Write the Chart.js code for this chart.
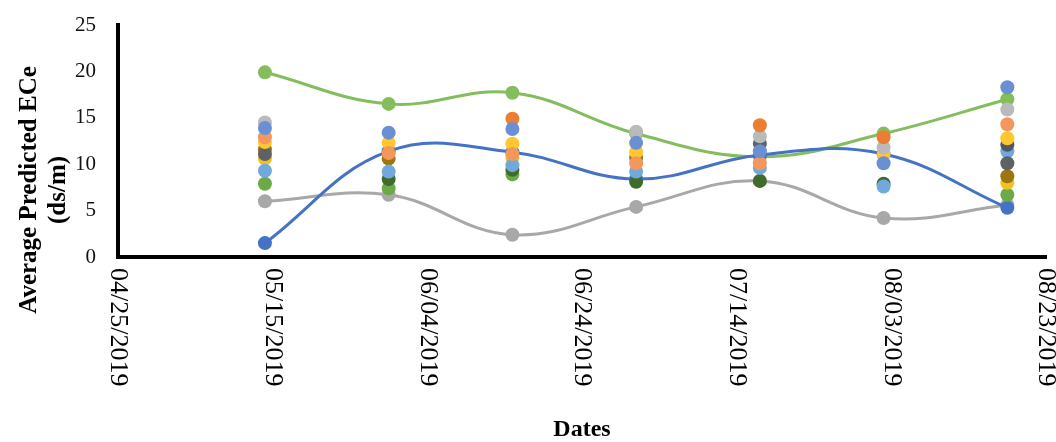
<!DOCTYPE html>
<html>
<head>
<meta charset="utf-8">
<script src="https://cdn.jsdelivr.net/npm/chart.js@4/dist/chart.umd.min.js"></script>
<style>
  html, body { margin: 0; padding: 0; background: #fff; }
  #wrap { width: 1056px; height: 442px; position: relative; }
</style>
</head>
<body>
<div id="wrap"><canvas id="eceChart"></canvas></div>
<script>
// image dates (16-day revisit) and x-axis tick labels
const sceneDates = ['05/14/2019', '05/30/2019', '06/15/2019', '07/01/2019', '07/17/2019', '08/02/2019', '08/18/2019'];
const tickLabels = ['04/25/2019', '05/15/2019', '06/04/2019', '06/24/2019', '07/14/2019', '08/03/2019', '08/23/2019'];
const yTicks = [0, 5, 10, 15, 20, 25];

// smoothed series
const greenLine = [19.9, 16.5, 17.7, 13.3, 10.8, 13.3, 17.0];
const blueLine = [1.5, 11.4, 11.3, 8.4, 11.0, 11.1, 5.3];
const grayLine = [6.0, 6.7, 2.4, 5.4, 8.2, 4.2, 5.6];

// marker-only series
const orangePts = [null, null, 14.9, null, 14.2, 12.9, null];
const lightGrayPts = [14.5, null, null, 13.5, 13.0, 11.8, 15.9];
const midBluePts = [13.9, 13.4, 13.8, 12.3, 11.4, 10.1, 18.3];
const yellowPts = [12.4, 12.3, 12.2, 11.3, null, 11.1, 12.8];
const lightOrangePts = [12.9, 11.2, 11.1, 10.1, 10.1, null, 14.3];
const darkYellowPts = [11.6, 10.6, null, 10.7, null, null, 8.7];
const darkGrayPts = [11.1, null, null, null, 12.2, null, 10.1];
const slatePts = [null, null, null, null, null, null, 12.1];
const yellow2Pts = [10.6, null, 10.7, null, null, null, 8.0];
const lightBluePts = [9.3, 9.2, 9.9, 9.2, 9.6, 7.6, 11.4];
const darkGreenPts = [null, 8.4, 9.4, 8.1, 8.2, 7.9, null];
const greenPts = [7.9, 7.4, 8.9, null, null, null, 6.7];

const yTitle = ['Average Predicted ECe', '(ds/m)'];
const xTitle = 'Dates';

const startDay = Date.UTC(2019, 3, 25);
function dayOf(s) {
    const p = s.split('/');
    return (Date.UTC(+p[2], +p[0] - 1, +p[1]) - startDay) / 86400000;
}
const sceneDays = sceneDates.map(dayOf);
const tickDays = tickLabels.map(dayOf);

function pts(values) {
    return values.map((v, i) => ({ x: sceneDays[i], y: v }));
}

function lineSet(values, color, order) {
    return {
        data: pts(values),
        borderColor: color,
        backgroundColor: color,
        borderWidth: 3,
        pointRadius: 7,
        pointBorderWidth: 0,
        tension: 0.4,
        showLine: true,
        order: order
    };
}

function dotSet(values, color) {
    return {
        data: pts(values),
        borderColor: color,
        backgroundColor: color,
        pointRadius: 7,
        pointBorderWidth: 0,
        showLine: false,
        order: 1
    };
}

// draws the rotated date labels (reading downwards) and the y title
const textPlugin = {
    id: 'textPlugin',
    afterDraw(chart) {
        const c = chart.ctx;
        const xs = chart.scales.x;
        c.save();
        c.fillStyle = '#000';
        c.font = '26px "Liberation Serif", "Times New Roman", serif';
        c.textAlign = 'left';
        c.textBaseline = 'middle';
        tickDays.forEach((d, i) => {
            c.save();
            c.translate(xs.getPixelForValue(d), chart.chartArea.bottom + 11);
            c.rotate(Math.PI / 2);
            c.fillText(tickLabels[i], 0, 0);
            c.restore();
        });
        c.font = 'bold 25px "Liberation Serif", "Times New Roman", serif';
        c.textAlign = 'center';
        c.translate(30, 190);
        c.rotate(-Math.PI / 2);
        c.fillText(yTitle[0], 0, 0);
        c.fillText(yTitle[1], 0, 29);
        c.restore();
    }
};

const ctx = document.getElementById('eceChart').getContext('2d');
const chart = new Chart(ctx, {
    type: 'scatter',
    data: {
        datasets: [
            lineSet(blueLine, '#4472C4', 2),
            lineSet(greenLine, '#84BD5E', 3),
            lineSet(grayLine, '#A8A8A8', 4),
            dotSet(midBluePts, '#6A8FD3'),
            dotSet(orangePts, '#ED7D31'),
            dotSet(lightGrayPts, '#BABABA'),
            dotSet(lightOrangePts, '#F4975C'),
            dotSet(yellowPts, '#FFC62E'),
            dotSet(darkGrayPts, '#5E6166'),
            dotSet(slatePts, '#4F5866'),
            dotSet(lightBluePts, '#72A9DC'),
            dotSet(darkYellowPts, '#9C7610'),
            dotSet(yellow2Pts, '#F2C020'),
            dotSet(darkGreenPts, '#3F6B2B'),
            dotSet(greenPts, '#6BAA47')
        ]
    },
    options: {
        responsive: true,
        maintainAspectRatio: false,
        animation: false,
        layout: {
            autoPadding: false,
            padding: { top: 25, right: 10, left: 0, bottom: 0 }
        },
        plugins: {
            legend: { display: false },
            tooltip: { enabled: false }
        },
        scales: {
            x: {
                type: 'linear',
                min: tickDays[0],
                max: tickDays[tickDays.length - 1],
                afterBuildTicks(scale) {
                    scale.ticks = tickDays.map(v => ({ value: v }));
                },
                afterFit(scale) {
                    scale.height = 185;
                    scale.paddingLeft = 0;
                    scale.paddingRight = 0;
                },
                ticks: { display: false },
                grid: { display: false, drawTicks: false },
                border: { display: true, color: '#000', width: 4 },
                title: {
                    display: true,
                    text: xTitle,
                    color: '#000',
                    font: { family: '"Liberation Serif", serif', size: 24, weight: 'bold', lineHeight: 1 },
                    padding: { top: 0, bottom: 0 }
                }
            },
            y: {
                min: yTicks[0],
                max: yTicks[yTicks.length - 1],
                afterBuildTicks(scale) {
                    scale.ticks = yTicks.map(v => ({ value: v }));
                },
                afterFit(scale) {
                    scale.width = 118;
                    scale.paddingTop = 0;
                    scale.paddingBottom = 0;
                },
                ticks: {
                    color: '#111',
                    padding: 22,
                    font: { family: '"Liberation Serif", serif', size: 21 }
                },
                grid: { display: false, drawTicks: false },
                border: { display: true, color: '#000', width: 4 }
            }
        }
    },
    plugins: [textPlugin]
});
</script>
</body>
</html>
